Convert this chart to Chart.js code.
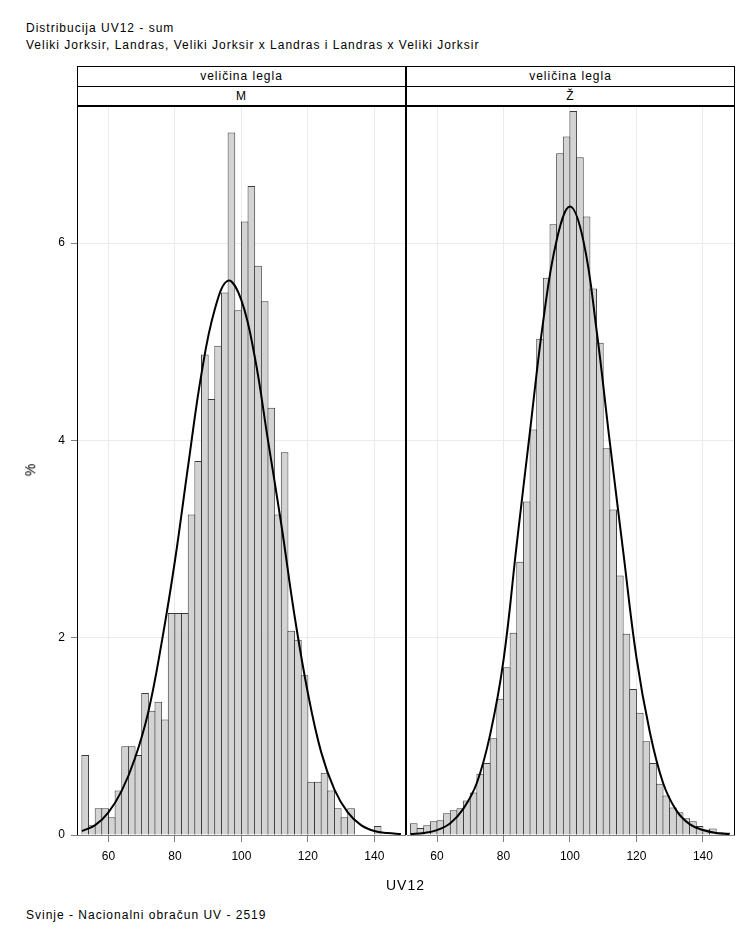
<!DOCTYPE html>
<html>
<head>
<meta charset="utf-8">
<script src="https://cdn.jsdelivr.net/npm/chart.js@4/dist/chart.umd.min.js"></script>
<style>
  html, body { margin: 0; padding: 0; background: #fff; }
  body { width: 756px; height: 945px; position: relative; overflow: hidden;
         font-family: "Liberation Sans", Arial, sans-serif; color: #000; }
  .txt { position: absolute; white-space: nowrap; font-size: 12px; line-height: 14px; letter-spacing: 1px; }
  .ln { position: absolute; background: #000; z-index: 5; }
  .hdr { position: absolute; text-align: center; font-size: 12px; letter-spacing: 1px; z-index: 5; }
  canvas { position: absolute; }
</style>
</head>
<body>
<div class="txt" style="left:26px;top:21px;">Distribucija UV12 - sum</div>
<div class="txt" style="left:26px;top:38px;">Veliki Jorksir, Landras, Veliki Jorksir x Landras i Landras x Veliki Jorksir</div>

<!-- header strips -->
<div class="hdr" style="left:78px;width:327px;top:67px;height:19px;line-height:19px;">veličina legla</div>
<div class="hdr" style="left:78px;width:327px;top:87px;height:18px;line-height:18px;">M</div>
<div class="hdr" style="left:407px;width:327px;top:67px;height:19px;line-height:19px;">veličina legla</div>
<div class="hdr" style="left:407px;width:327px;top:87px;height:18px;line-height:18px;">Ž</div>

<!-- frame lines -->
<div class="ln" style="left:77px;top:66px;width:658px;height:1px;"></div>
<div class="ln" style="left:77px;top:86px;width:658px;height:1px;"></div>
<div class="ln" style="left:77px;top:105px;width:658px;height:2px;"></div>
<div class="ln" style="left:77px;top:66px;width:1px;height:769px;"></div>
<div class="ln" style="left:405px;top:66px;width:2px;height:769px;"></div>
<div class="ln" style="left:734px;top:66px;width:1px;height:769px;"></div>

<canvas id="cM" width="406" height="775" style="left:0px;top:105px;"></canvas>
<canvas id="cF" width="349" height="775" style="left:407px;top:105px;"></canvas>

<div class="txt" style="left:24px;top:463px;transform:rotate(-90deg);transform-origin:center;font-size:14px;letter-spacing:0;">%</div>
<div class="txt" style="left:386px;top:878px;font-size:14px;">UV12</div>
<div class="txt" style="left:26px;top:908px;">Svinje - Nacionalni obračun UV - 2519</div>

<script>
// ---- data ----
const binMid = [53,55,57,59,61,63,65,67,69,71,73,75,77,79,81,83,85,87,89,91,93,95,97,99,
                101,103,105,107,109,111,113,115,117,119,121,123,125,127,129,131,133,135,137,139,141,143,145,147];

const pctM = [0.81,0.10,0.27,0.27,0.18,0.45,0.90,0.90,0.81,1.44,1.26,1.35,1.17,2.25,2.25,2.25,
              3.25,3.79,4.87,4.42,4.96,5.50,7.12,5.32,6.22,6.58,5.77,5.41,4.33,3.25,3.88,2.07,
              1.98,1.62,0.54,0.54,0.63,0.45,0.27,0.18,0.27,null,null,null,0.09,null,null,null];

const pctF = [0.12,0.07,0.10,0.14,0.15,0.22,0.25,0.27,0.35,0.43,0.62,0.73,0.98,1.38,1.70,2.05,
              2.77,3.38,4.11,5.03,5.65,6.19,6.91,7.08,7.34,6.87,6.27,5.54,4.99,3.92,3.30,2.63,
              2.04,1.48,1.24,0.95,0.73,0.52,0.40,0.28,0.23,0.17,0.14,0.09,0.055,0.065,0.027,0.025];

const curveX = [52,56,60,64,68,72,76,80,84,88,92,96,100,104,108,112,116,120,124,128,132,136,140,144,148];
const curveM = [0.04,0.10,0.23,0.45,0.78,1.25,1.95,2.78,3.75,4.68,5.33,5.62,5.42,4.85,4.00,3.15,
                2.22,1.44,0.84,0.46,0.23,0.10,0.04,0.02,0.01];
const curveF = [0.01,0.02,0.05,0.12,0.27,0.53,1.02,1.77,2.95,4.10,5.22,6.03,6.37,6.03,5.12,3.98,
                2.88,1.80,1.05,0.53,0.25,0.11,0.05,0.02,0.01];

const xTicks = [60,80,100,120,140];
const yTicks = [0,2,4,6];

Chart.defaults.font.family = '"Liberation Sans", Arial, sans-serif';
Chart.defaults.font.size = 12;
Chart.defaults.color = '#000';

function panel(id, bars, curve, showY, xMin, xMax, padRight) {
  new Chart(document.getElementById(id), {
    data: {
      datasets: [
        { type: 'line', data: curveX.map((x, i) => ({ x: x, y: curve[i] })),
          borderColor: '#000', borderWidth: 2, pointRadius: 0, fill: false,
          tension: 0.4, order: 0 },
        { type: 'bar', data: binMid.map((x, i) => ({ x: x, y: bars[i] })),
          backgroundColor: '#d3d3d3', borderColor: '#3a3a3a', borderWidth: 1,
          borderSkipped: 'start', barPercentage: 1.15, categoryPercentage: 1, order: 1 }
      ]
    },
    options: {
      responsive: false, animation: false, devicePixelRatio: 1,
      layout: { padding: { left: 0, right: padRight, top: 0, bottom: 0 } },
      plugins: { legend: { display: false }, tooltip: { enabled: false } },
      scales: {
        x: {
          type: 'linear', min: xMin, max: xMax, offset: false,
          grid: { offset: false, color: '#ebebeb', tickColor: '#808080', tickLength: 7 },
          border: { color: '#808080', width: 1 },
          ticks: { padding: 7, maxRotation: 0, autoSkip: false, color: '#000' },
          afterBuildTicks: s => { s.ticks = xTicks.map(v => ({ value: v })); },
          afterFit: s => { s.height = 45; s.paddingLeft = 0; s.paddingRight = 0; }
        },
        y: {
          type: 'linear', min: 0, max: 7.40,
          grid: { color: '#ebebeb', tickColor: '#808080', tickLength: showY ? 7 : 0, drawTicks: showY },
          border: { display: false },
          ticks: { display: showY, padding: 6, color: '#000' },
          afterBuildTicks: s => { s.ticks = yTicks.map(v => ({ value: v })); },
          afterFit: s => { s.width = showY ? 78 : 0; s.paddingTop = 0; s.paddingBottom = 0; }
        }
      }
    }
  });
}

panel('cM', pctM, curveM, true, 50.83, 149.53, 0);
panel('cF', pctF, curveF, false, 50.97, 149.36, 22);
</script>
</body>
</html>
